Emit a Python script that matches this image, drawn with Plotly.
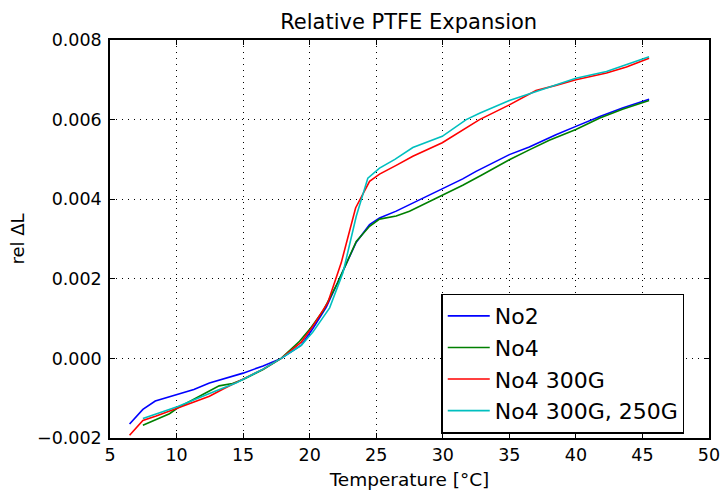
import plotly.graph_objects as go

# Data (temperature in °C, relative expansion)
t_no2 = [6.47, 7.47, 8.4, 10.1, 11.3, 12.47, 13.5, 15.0, 16.5, 17.86, 19.37, 20.24, 21.24, 22.1, 23.5, 24.5,
         25.25, 26.5, 27.5, 28.5, 30.0, 31.5, 32.5, 34.0, 35.0, 36.5, 37.27, 38.5, 40.0, 41.8, 43.5, 45.5]
v_no2 = [-1.65, -1.28, -1.07, -0.90, -0.78, -0.62, -0.52, -0.37, -0.19, 0.0, 0.33, 0.75, 1.28, 1.90, 2.92, 3.36,
         3.53, 3.70, 3.86, 4.03, 4.26, 4.51, 4.70, 4.95, 5.12, 5.31, 5.43, 5.62, 5.83, 6.08, 6.29, 6.51]

t_no4 = [7.47, 8.47, 9.47, 10.1, 11.48, 12.5, 13.2, 14.2, 15.0, 16.5, 17.86, 19.24, 20.0, 21.0, 22.1, 23.5,
         24.5, 25.25, 26.5, 27.5, 28.5, 29.96, 31.5, 33.0, 35.0, 36.5, 38.0, 40.0, 41.8, 43.5, 45.5]
v_no4 = [-1.68, -1.53, -1.39, -1.24, -0.99, -0.82, -0.69, -0.63, -0.53, -0.28, 0.0, 0.43, 0.73, 1.19, 1.90, 2.94,
         3.32, 3.50, 3.58, 3.70, 3.86, 4.10, 4.35, 4.62, 4.99, 5.24, 5.48, 5.75, 6.04, 6.26, 6.48]

t_300 = [6.47, 7.47, 8.47, 10.1, 11.3, 12.47, 13.5, 15.0, 16.5, 17.86, 19.37, 20.24, 21.36, 22.37, 23.45, 24.5,
         25.25, 26.5, 27.75, 29.96, 31.5, 32.76, 35.0, 37.0, 38.5, 40.0, 42.3, 43.8, 45.5]
v_300 = [-1.93, -1.56, -1.45, -1.24, -1.10, -0.95, -0.77, -0.53, -0.27, 0.0, 0.41, 0.81, 1.40, 2.40, 3.78, 4.45,
         4.63, 4.85, 5.08, 5.42, 5.74, 6.00, 6.37, 6.73, 6.86, 7.00, 7.17, 7.32, 7.54]

t_250 = [7.47, 8.47, 10.1, 12.47, 14.5, 16.5, 17.86, 19.37, 20.24, 21.5, 22.5, 23.5, 24.37, 25.25, 26.4, 27.75,
         29.96, 31.76, 32.76, 35.0, 37.8, 40.0, 42.3, 43.8, 45.5]
v_250 = [-1.51, -1.40, -1.21, -0.88, -0.61, -0.27, 0.0, 0.33, 0.66, 1.27, 2.15, 3.57, 4.53, 4.78, 5.00, 5.30,
         5.58, 6.00, 6.16, 6.48, 6.79, 7.04, 7.21, 7.38, 7.58]

names = ["No2", "No4", "No4 300G", "No4 300G, 250G"]
colors = ["#0000ff", "#008000", "#ff0000", "#00bfbf"]
series = [(t_no2, v_no2), (t_no4, v_no4), (t_300, v_300), (t_250, v_250)]

x_ticks = [5, 10, 15, 20, 25, 30, 35, 40, 45, 50]
y_ticks = [-0.002, 0.0, 0.002, 0.004, 0.006, 0.008]

fig = go.Figure()
for (t, v), n, c in zip(series, names, colors):
    fig.add_trace(go.Scatter(x=t, y=[val * 1e-3 for val in v], mode="lines", name=n,
                             line=dict(color=c, width=1.6)))

font = "DejaVu Sans, Bitstream Vera Sans, sans-serif"
axis_common = dict(showline=True, linecolor="black", linewidth=1.5, mirror="ticks",
                   ticks="inside", ticklen=5, tickwidth=1, tickcolor="black",
                   showgrid=True, gridcolor="black", gridwidth=1, griddash="1px,5px",
                   zeroline=False, automargin=False, tickfont=dict(size=17.5, color="black"))

fig.update_layout(
    width=722, height=490,
    margin=dict(l=110, r=13, t=40, b=52),
    paper_bgcolor="white", plot_bgcolor="white",
    font=dict(family=font, color="black"),
    title=dict(text="Relative PTFE Expansion", x=0.566, xanchor="center", y=0.955, yanchor="middle",
               font=dict(size=21, color="black")),
    xaxis=dict(range=[5, 50], tickvals=x_ticks, ticktext=[str(v) for v in x_ticks],
               ticklabelstandoff=0,
               title=dict(text="Temperature [°C]", font=dict(size=18.5), standoff=12), **axis_common),
    yaxis=dict(range=[-0.002, 0.008], tickvals=y_ticks, tickformat=".3f",
               ticklabelstandoff=3,
               title=dict(text="rel ΔL", font=dict(size=18), standoff=8), **axis_common),
    legend=dict(x=0.553, y=0.363, xanchor="left", yanchor="top", bgcolor="white",
                bordercolor="black", borderwidth=1.5, font=dict(size=22, color="black"),
                itemwidth=42),
)

fig.write_html("out.html")
